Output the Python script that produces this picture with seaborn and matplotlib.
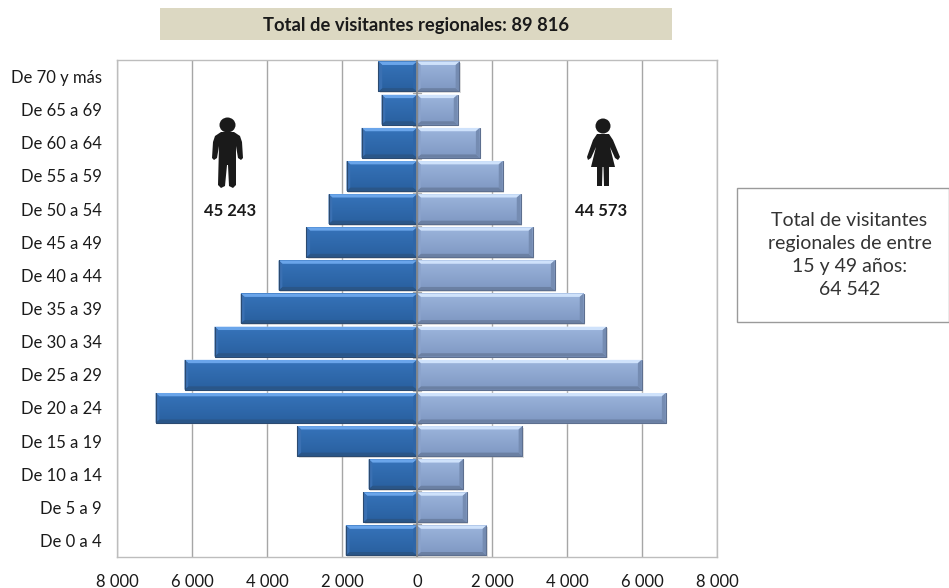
import matplotlib
matplotlib.use('Agg')
import matplotlib.pyplot as plt
import numpy as np
import seaborn as sns
from matplotlib.patches import Ellipse, Polygon, Rectangle
from matplotlib.transforms import Affine2D

# Values
grupos = ['De 70 y más', 'De 65 a 69', 'De 60 a 64', 'De 55 a 59', 'De 50 a 54',
          'De 45 a 49', 'De 40 a 44', 'De 35 a 39', 'De 30 a 34', 'De 25 a 29',
          'De 20 a 24', 'De 15 a 19', 'De 10 a 14', 'De 5 a 9', 'De 0 a 4']
hombres = [1027, 946, 1480, 1880, 2360, 2950, 3690, 4700, 5400, 6200, 6970, 3190, 1290, 1430, 1900]
mujeres = [1130, 1080, 1670, 2280, 2760, 3080, 3670, 4440, 5050, 5990, 6630, 2810, 1230, 1320, 1850]
ticks = [-8000, -6000, -4000, -2000, 0, 2000, 4000, 6000, 8000]
tick_labels = ['8 000', '6 000', '4 000', '2 000', '0', '2 000', '4 000', '6 000', '8 000']

titulo = 'Total de visitantes regionales: 89 816'
total_h = '45 243'
total_m = '44 573'
nota = 'Total de visitantes\nregionales de entre\n15 y 49 años:\n64 542'

sns.set_theme(style='white')
plt.rcParams['font.family'] = ['Lato', 'DejaVu Sans']
TXT = '#1a1a1a'

W, H = 949, 588
fig = plt.figure(figsize=(W / 100, H / 100), dpi=100)
ax = fig.add_axes([117 / W, 1 - 557 / H, 600 / W, 497 / H])

sns.barplot(x=-np.array(hombres), y=grupos, color='#2f68ac', saturation=1, width=0.9, ax=ax, zorder=3)
sns.barplot(x=mujeres, y=grupos, color='#829cc9', saturation=1, width=0.9, ax=ax, zorder=3)

ax.set_xticks(ticks)
ax.set_xticklabels(tick_labels, fontsize=12, color=TXT)
ax.tick_params(axis='x', length=0, pad=12)
ax.tick_params(axis='y', length=0, pad=11, labelsize=12, labelcolor=TXT)
ax.set_xlabel('')
ax.set_ylabel('')
ax.xaxis.grid(True, color='#a6a6a6', lw=1)
ax.set_axisbelow(True)
for s in ax.spines.values():
    s.set_color('#bdbdbd')
    s.set_linewidth(1)

# bevel look on each bar
def bevel(p, top, bottom, outer, inner, mid_top, mid_bottom, edge):
    x0, x1 = sorted([p.get_x(), p.get_x() + p.get_width()])
    y0, y1 = p.get_y(), p.get_y() + p.get_height()  # y0 is the upper edge on screen
    dx, dy = 100, 0.1
    ax.add_patch(Rectangle((x0 + 30, y0 + 0.05), x1 - x0, y1 - y0, color='#00000026', lw=0, zorder=2.5))
    g = np.linspace(0, 1, 32)[:, None]
    cols = np.array(matplotlib.colors.to_rgb(mid_top)) * (1 - g) + np.array(matplotlib.colors.to_rgb(mid_bottom)) * g
    ax.imshow(cols.reshape(32, 1, 3), extent=(x0, x1, y1, y0), aspect='auto', zorder=3.1)
    ax.add_patch(Polygon([(x0, y0), (x1, y0), (x1 - dx, y0 + dy), (x0 + dx, y0 + dy)], color=top, lw=0, zorder=3.2))
    ax.add_patch(Polygon([(x0, y1), (x1, y1), (x1 - dx, y1 - dy), (x0 + dx, y1 - dy)], color=bottom, lw=0, zorder=3.2))
    ax.add_patch(Polygon([(x0, y0), (x0 + dx, y0 + dy), (x0 + dx, y1 - dy), (x0, y1)], color=outer, lw=0, zorder=3.2))
    ax.add_patch(Polygon([(x1, y0), (x1 - dx, y0 + dy), (x1 - dx, y1 - dy), (x1, y1)], color=inner, lw=0, zorder=3.2))
    ax.plot([x0, x0, x1, x1], [y0, y1, y1, y0], color=edge, lw=0.8, zorder=3.3)

for i, p in enumerate(ax.patches[:2 * len(grupos)]):
    if i < len(grupos):
        bevel(p, '#6aa5ea', '#2a5688', '#3a70b2', '#2f66a8', '#3673ba', '#29609f', '#2b4a70')
    else:
        bevel(p, '#cfe2fb', '#6b80a3', '#8ba3cc', '#758cb2', '#9bb4dc', '#7f98c2', '#5d6f8f')
ax.set_xlim(-8000, 8000)
ax.set_ylim(len(grupos) - 0.5, -0.5)

# center axis with its small ticks
ax.axvline(0, color='#8c8c8c', lw=1.2, zorder=5)
for y in np.arange(-0.5, len(grupos)):
    ax.plot([-110, 110], [y, y], color='#a6a6a6', lw=1, zorder=2)

# pixel coordinates for the annotations
px = Affine2D().scale(1 / W, -1 / H).translate(0, 1) + fig.transFigure

fig.patches.append(Rectangle((160, 8), 512, 32, transform=px, color='#dcd8c2', lw=0))
fig.text(416, 25.5, titulo, transform=px, ha='center', va='center', fontsize=13.2, fontweight='bold', color=TXT)

fig.text(230, 211, total_h, transform=px, ha='center', va='center', fontsize=12, fontweight='bold', color=TXT)
fig.text(601, 211, total_m, transform=px, ha='center', va='center', fontsize=12, fontweight='bold', color=TXT)

fig.patches.append(Rectangle((737.5, 187.5), 212, 134, transform=px, fill=False, ec='#9a9a9a', lw=1))
fig.text(849.5, 255, nota, transform=px, ha='center', va='center', fontsize=14, color='#333333', linespacing=1.45)

# man icon
ICON = '#1a1a1a'
fig.patches.append(Ellipse((227.5, 125), 16, 15, transform=px, color=ICON, lw=0))
man = [(221, 132), (234, 132), (240, 136), (242, 142), (243, 158), (241, 160), (238, 158), (236, 146),
       (236, 185), (233, 188), (229, 186), (228, 165), (227, 165), (225, 186), (221, 188), (218, 185),
       (219, 146), (217, 158), (214, 160), (212, 158), (213, 142), (215, 136)]
fig.patches.append(Polygon(man, transform=px, color=ICON, lw=0))

# woman icon
fig.patches.append(Ellipse((603, 126), 15, 15, transform=px, color=ICON, lw=0))
woman = [(597, 134), (609, 134), (613, 140), (620, 157), (618, 160), (615, 158), (610, 147), (615, 167),
         (609, 167), (609, 186), (604, 186), (603.5, 167), (602.5, 167), (602, 186), (597, 186), (597, 167),
         (591, 167), (596, 147), (591, 158), (588, 160), (587, 157), (593, 140)]
fig.patches.append(Polygon(woman, transform=px, color=ICON, lw=0))

fig.savefig('out.png', dpi=100)
